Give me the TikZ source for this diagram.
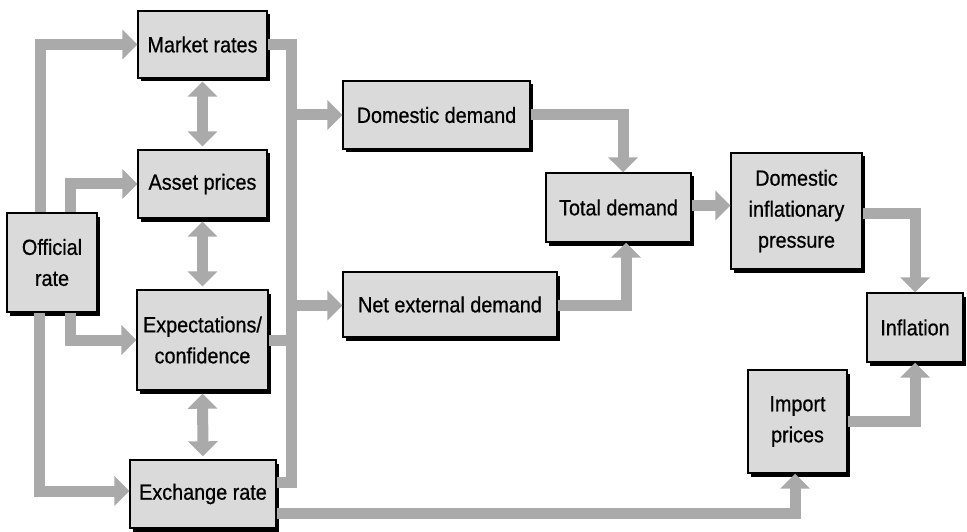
\documentclass[tikz,border=0pt]{standalone}
\usepackage{fontspec}
\setmainfont{Liberation Sans}[FakeStretch=0.9,FakeBold=0.6]
\usetikzlibrary{arrows.meta,shadows}
\definecolor{flow}{RGB}{170,170,170}
\definecolor{boxfill}{RGB}{218,218,218}
\tikzset{
  box/.style={rectangle, draw=black, line width=1.4pt, fill=boxfill, align=center,
    inner sep=0pt, font=\fontsize{22}{31}\selectfont,
    drop shadow={shadow xshift=3pt, shadow yshift=-3.5pt, fill=black, opacity=1}},
  flowline/.style={draw=flow, line width=11pt, line join=miter},
  flowarrow/.style={flowline, -{Triangle[width=29pt,length=15pt]}},
  flowboth/.style={flowline, {Triangle[width=29pt,length=15pt]}-{Triangle[width=29pt,length=15pt]}, shorten <=3pt, shorten >=3pt}
}
\begin{document}
\begin{tikzpicture}[x=1pt,y=-1pt]
\useasboundingbox (0,0) rectangle (967,532);
% nodes
\node[box, minimum width=129pt, minimum height=67pt] (mr) at (202.5,44.5) {Market rates};
\node[box, minimum width=129pt, minimum height=68pt] (ap) at (202.5,184) {Asset prices};
\node[box, minimum width=90pt, minimum height=99pt] (off) at (52,262.5) {Official\\rate};
\node[box, minimum width=131pt, minimum height=100pt] (exp) at (202.5,340) {Expectations/\\confidence};
\node[box, minimum width=146pt, minimum height=68pt] (ex) at (203,494) {Exchange rate};
\node[box, minimum width=187pt, minimum height=68pt] (dd) at (436.5,115) {Domestic demand};
\node[box, minimum width=214pt, minimum height=65pt] (ned) at (450,304.5) {Net external demand};
\node[box, minimum width=145pt, minimum height=69pt] (td) at (618.5,207.5) {Total demand};
\node[box, minimum width=131pt, minimum height=116pt] (dip) at (796.5,211) {Domestic\\inflationary\\pressure};
\node[box, minimum width=96pt, minimum height=69pt] (inf) at (915,327.5) {Inflation};
\node[box, minimum width=99pt, minimum height=103pt] (imp) at (797.5,421.5) {Import\\prices};
% bus coordinates
\coordinate (bustop) at (291,44.5);
\coordinate (busbot) at (291,482);
% official rate outputs
\draw[flowarrow] ([xshift=-12pt]off.north) |- (mr.west);
\draw[flowarrow] ([xshift=18pt]off.north) |- (ap.west);
\draw[flowarrow] ([xshift=18pt]off.south) |- (exp.west);
\draw[flowarrow] ([xshift=-13pt]off.south) |- ([yshift=3pt]ex.west);
% double arrows
\draw[flowboth] (mr.south) -- (ap.north);
\draw[flowboth] (ap.south) -- (exp.north);
\draw[flowboth] (exp.south) -- (ex.north);
% collector bus
\draw[flowline] (mr.east) -- (bustop) -- (busbot) -- ([yshift=12pt]ex.east);
\draw[flowline] (exp.east) -- (exp.east -| bustop);
\draw[flowarrow] (dd.west -| bustop) -- (dd.west);
\draw[flowarrow] ([yshift=-1pt]ned.west -| bustop) -- ([yshift=-1pt]ned.west);
% demand
\draw[flowarrow] (dd.east) -| ([xshift=4.5pt]td.north);
\draw[flowarrow] ([yshift=-1pt]ned.east) -| ([xshift=7.5pt]td.south);
\draw[flowarrow] ([yshift=2pt]td.east) -- ([yshift=2pt]td.east -| dip.west);
% inflation
\draw[flowarrow] ([yshift=-2pt]dip.east) -| (inf.north);
\draw[flowarrow] (imp.east) -| (inf.south);
\draw[flowarrow] ([yshift=-19pt]ex.east) -| ([xshift=-2.5pt]imp.south);
\end{tikzpicture}
\end{document}
